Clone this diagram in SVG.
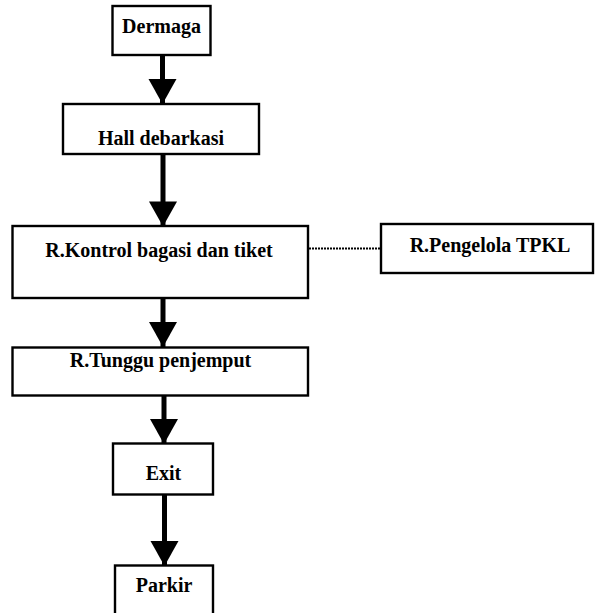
<svg xmlns="http://www.w3.org/2000/svg" width="595" height="613" viewBox="0 0 595 613">
  <style>
    .box { fill: #ffffff; stroke: #000000; stroke-width: 2.4; }
    .lbl { font-family: "Liberation Serif", "Times New Roman", serif; font-weight: bold; font-size: 20px; fill: #000000; text-anchor: middle; }
    .flow { stroke: #000000; stroke-width: 5; fill: none; }
    .dot { stroke: #000000; stroke-width: 2; stroke-dasharray: 2 1; fill: none; }
  </style>
  <defs>
    <marker id="arrow" markerUnits="userSpaceOnUse" markerWidth="26" markerHeight="30" refX="25" refY="14" orient="auto" viewBox="0 0 26 30" overflow="visible">
      <path d="M0,0 L25,14 L0,28 Z" fill="#000000"/>
    </marker>
  </defs>
  <rect width="595" height="613" fill="#ffffff"/>

  <g id="connectors">
    <line class="flow" x1="162.5" y1="55" x2="162.5" y2="104" marker-end="url(#arrow)"/>
    <line class="flow" x1="163" y1="154" x2="163" y2="226.5" marker-end="url(#arrow)"/>
    <line class="flow" x1="163" y1="298" x2="163" y2="347" marker-end="url(#arrow)"/>
    <line class="flow" x1="164" y1="396" x2="164" y2="444" marker-end="url(#arrow)"/>
    <line class="flow" x1="164.5" y1="494" x2="164.5" y2="566" marker-end="url(#arrow)"/>
    <line class="dot" x1="309" y1="248.5" x2="381" y2="248.5"/>
  </g>

  <g id="dermaga">
    <rect class="box" x="112.5" y="6" width="98" height="49"/>
    <text class="lbl" x="161.5" y="33">Dermaga</text>
  </g>
  <g id="hall-debarkasi">
    <rect class="box" x="63" y="104" width="196" height="50"/>
    <text class="lbl" x="161" y="145">Hall debarkasi</text>
  </g>
  <g id="kontrol">
    <rect class="box" x="12.5" y="226" width="295.5" height="72"/>
    <text class="lbl" x="159" y="257">R.Kontrol bagasi dan tiket</text>
  </g>
  <g id="pengelola">
    <rect class="box" x="381" y="224" width="212" height="49"/>
    <text class="lbl" x="490" y="252">R.Pengelola TPKL</text>
  </g>
  <g id="tunggu">
    <rect class="box" x="12.5" y="347.5" width="295.5" height="48"/>
    <text class="lbl" x="160.5" y="367">R.Tunggu penjemput</text>
  </g>
  <g id="exit">
    <rect class="box" x="113" y="443.5" width="100" height="51"/>
    <text class="lbl" x="163.5" y="480">Exit</text>
  </g>
  <g id="parkir">
    <rect class="box" x="115" y="565.5" width="98" height="60"/>
    <text class="lbl" x="164" y="592">Parkir</text>
  </g>
</svg>
